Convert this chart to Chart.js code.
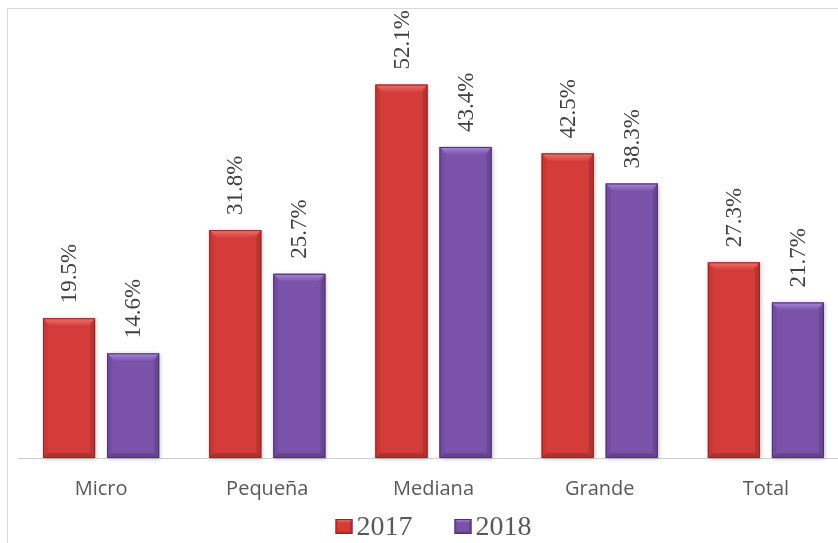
<!DOCTYPE html>
<html>
<head>
<meta charset="utf-8">
<script src="https://cdn.jsdelivr.net/npm/chart.js@4/dist/chart.umd.min.js"></script>
<style>
  html, body { margin: 0; padding: 0; background: #fff; overflow: hidden; }
  #wrap { position: relative; width: 838px; height: 543px; overflow: hidden; background: #fff; }
  #frame { position: absolute; left: 7px; top: 8px; width: 900px; height: 600px;
           border-left: 1px solid #d9d9d9; border-top: 1px solid #d9d9d9; }
  #cv { position: absolute; left: 0; top: 0; }
</style>
</head>
<body>
<div id="wrap">
  <div id="frame"></div>
  <div style="position:absolute;left:0;top:0;width:860px;height:543px;">
    <canvas id="cv" width="860" height="543"></canvas>
  </div>
</div>
<script>
const categories = ['Micro', 'Pequeña', 'Mediana', 'Grande', 'Total'];
const seriesNames = ['2017', '2018'];
const values2017 = [19.5, 31.8, 52.1, 42.5, 27.3];
const values2018 = [14.6, 25.7, 43.4, 38.3, 21.7];

const palette = [
  { body: '#D43C39', light: '#EE7470', dark: '#A82523', edge: '#9A2322' },
  { body: '#7A52A9', light: '#A888D8', dark: '#573681', edge: '#4E3275' }
];

function bevelRect(ctx, L, T, R, B, c, b) {
  ctx.save();
  ctx.fillStyle = c.body;
  ctx.fillRect(L, T, R - L, B - T);
  const gTop = ctx.createLinearGradient(0, T, 0, T + b);
  gTop.addColorStop(0, c.light);
  gTop.addColorStop(1, c.body);
  ctx.fillStyle = gTop;
  ctx.beginPath();
  ctx.moveTo(L, T); ctx.lineTo(R, T); ctx.lineTo(R - b, T + b); ctx.lineTo(L + b, T + b); ctx.closePath();
  ctx.fill();
  ctx.fillStyle = 'rgba(0,0,0,0.06)';
  ctx.beginPath();
  ctx.moveTo(L, T); ctx.lineTo(L + b * 0.6, T + b); ctx.lineTo(L + b * 0.6, B - b * 0.6); ctx.lineTo(L, B); ctx.closePath();
  ctx.fill();
  ctx.fillStyle = 'rgba(0,0,0,0.14)';
  ctx.beginPath();
  ctx.moveTo(R, T); ctx.lineTo(R - b * 0.6, T + b); ctx.lineTo(R - b * 0.6, B - b * 0.6); ctx.lineTo(R, B); ctx.closePath();
  ctx.fill();
  ctx.fillStyle = 'rgba(0,0,0,0.18)';
  ctx.beginPath();
  ctx.moveTo(L, B); ctx.lineTo(R, B); ctx.lineTo(R - b * 0.6, B - b * 0.6); ctx.lineTo(L + b * 0.6, B - b * 0.6); ctx.closePath();
  ctx.fill();
  ctx.strokeStyle = c.edge;
  ctx.lineWidth = 1;
  ctx.strokeRect(L + 0.5, T + 0.5, R - L - 1, B - T - 1);
  ctx.restore();
}

const bevelBars = {
  id: 'bevelBars',
  afterDatasetDraw(chart, args) {
    const ctx = chart.ctx;
    const meta = args.meta;
    const c = palette[args.index];
    meta.data.forEach(el => {
      const p = el.getProps(['x', 'y', 'base', 'width'], true);
      const L = p.x - p.width / 2, R = p.x + p.width / 2;
      const T = Math.min(p.y, p.base), B = Math.max(p.y, p.base);
      ctx.save();
      ctx.shadowColor = 'rgba(0,0,0,0.25)';
      ctx.shadowBlur = 4;
      ctx.shadowOffsetX = 1;
      ctx.shadowOffsetY = 1;
      ctx.fillStyle = c.body;
      ctx.fillRect(L, T, R - L, B - T);
      ctx.restore();
      bevelRect(ctx, L, T, R, B, c, 8);
    });
  }
};

const valueLabels = {
  id: 'valueLabels',
  afterDatasetsDraw(chart) {
    const ctx = chart.ctx;
    ctx.save();
    ctx.font = '23px "Liberation Serif", "Times New Roman", serif';
    ctx.fillStyle = '#404040';
    ctx.textAlign = 'left';
    ctx.textBaseline = 'middle';
    chart.data.datasets.forEach((ds, di) => {
      const meta = chart.getDatasetMeta(di);
      meta.data.forEach((el, i) => {
        const p = el.getProps(['x', 'y'], true);
        ctx.save();
        ctx.translate(p.x + 1, p.y - 15);
        ctx.rotate(-Math.PI / 2);
        ctx.fillText(ds.data[i].toFixed(1) + '%', 0, 0);
        ctx.restore();
      });
    });
    ctx.restore();
  }
};

const bottomLegend = {
  id: 'bottomLegend',
  afterDraw(chart) {
    const ctx = chart.ctx;
    const area = chart.chartArea;
    ctx.save();
    ctx.font = '28px "Liberation Serif", "Times New Roman", serif';
    ctx.textBaseline = 'alphabetic';
    ctx.textAlign = 'left';
    const boxW = 17, boxH = 15, gap = 4, itemGap = 42;
    const items = chart.data.datasets.map((ds, i) => ({ text: ds.label, w: ctx.measureText(ds.label).width, c: palette[i] }));
    const total = items.reduce((s, it) => s + boxW + gap + it.w, 0) + itemGap * (items.length - 1);
    let x = (area.left + area.right) / 2 - total / 2;
    const baseY = 535;
    items.forEach(it => {
      bevelRect(ctx, x, baseY - 16, x + boxW, baseY - 16 + boxH, it.c, 4);
      ctx.fillStyle = '#595959';
      ctx.fillText(it.text, x + boxW + gap, baseY);
      x += boxW + gap + it.w + itemGap;
    });
    ctx.restore();
  }
};

new Chart(document.getElementById('cv'), {
  type: 'bar',
  data: {
    labels: categories,
    datasets: [
      { label: seriesNames[0], data: values2017, backgroundColor: 'rgba(0,0,0,0)', borderWidth: 0 },
      { label: seriesNames[1], data: values2018, backgroundColor: 'rgba(0,0,0,0)', borderWidth: 0 }
    ]
  },
  options: {
    responsive: false,
    animation: false,
    events: [],
    categoryPercentage: 0.771,
    barPercentage: 0.8125,
    layout: { padding: { left: 18, right: 11, top: 28, bottom: 35 } },
    plugins: {
      legend: { display: false },
      tooltip: { enabled: false },
      title: { display: false }
    },
    scales: {
      x: {
        grid: { display: false },
        border: { display: true, color: '#d0d0d0', width: 1 },
        ticks: {
          color: '#595959',
          font: { family: '"Open Sans", Lato, sans-serif', size: 20 },
          padding: 11,
          maxRotation: 0
        },
        afterFit(scale) { scale.height = 50; }
      },
      y: {
        display: false,
        min: 0,
        max: 60
      }
    }
  },
  plugins: [bevelBars, valueLabels, bottomLegend]
});
</script>
</body>
</html>
